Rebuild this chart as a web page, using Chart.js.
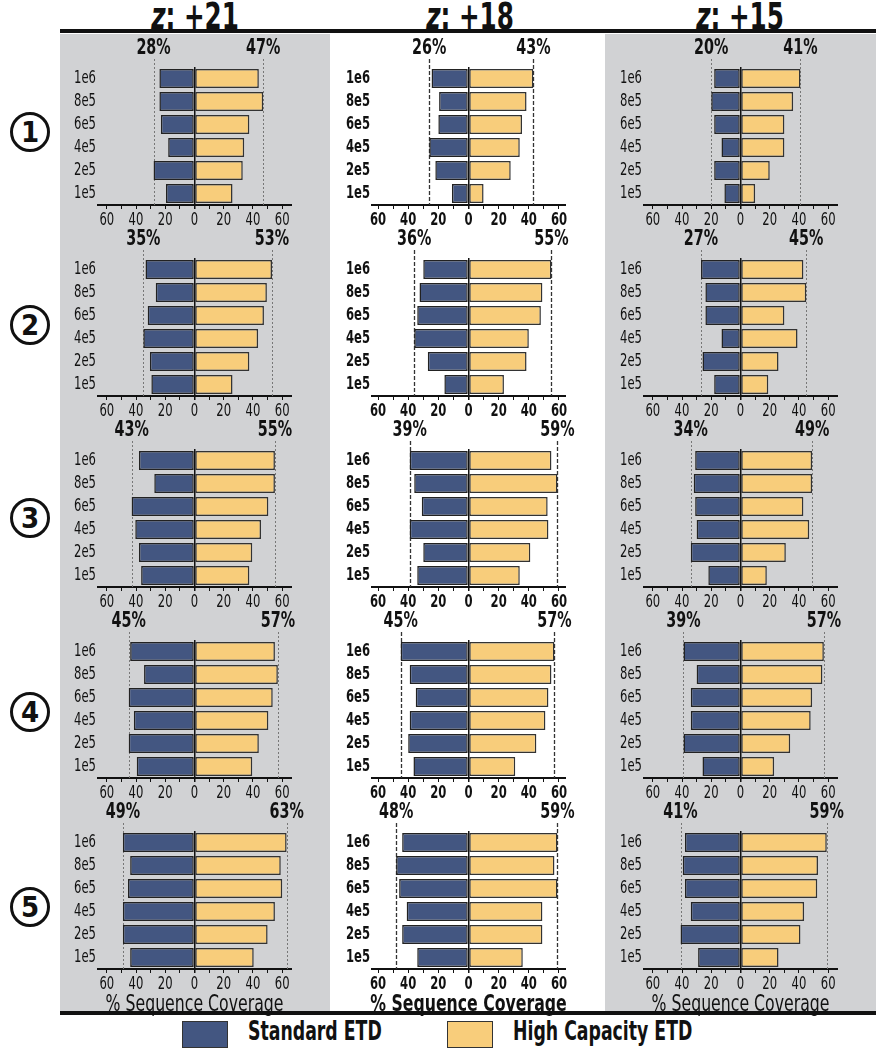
<!DOCTYPE html>
<html>
<head>
<meta charset="utf-8">
<script src="https://cdn.jsdelivr.net/npm/chart.js@4.4.1/dist/chart.umd.min.js"></script>
<style>
	body { margin: 0; width: 876px; height: 1050px; position: relative; overflow: hidden; background: #fff; color: #111;
		font-family: 'DejaVu Sans Condensed', 'DejaVu Sans', sans-serif; }
	.panel { position: absolute; top: 34px; height: 977px; background: #d1d2d4; }
	.rule { position: absolute; left: 60px; width: 816px; height: 4px; background: #111; }
	.head { position: absolute; top: -5px; width: 200px; text-align: center; font-weight: bold; font-size: 37px;
		transform: scaleX(0.74); transform-origin: center; }
	.head i { font-style: italic; }
	.circ { position: absolute; left: 10px; width: 34px; height: 34px; border: 3px solid #111; border-radius: 50%;
		text-align: center; line-height: 35px; font-weight: bold; font-size: 29px; }
	.key { position: absolute; top: 1021px; width: 44px; height: 25px; border: 1.5px solid #333; }
	.keytxt { position: absolute; top: 1016px; font-weight: bold; font-size: 26px; white-space: nowrap;
		transform: scaleX(0.74); transform-origin: left center; }
	canvas { position: absolute; }
</style>
</head>
<body>
<div class="panel" style="left:60px;width:270px"></div>
<div class="panel" style="left:605px;width:271px"></div>
<div class="rule" style="top:29px"></div>
<div class="rule" style="top:1011px"></div>

<div id="heads"></div>
<div id="rows"></div>

<div class="key" style="left:182px;background:#435681"></div>
<div class="keytxt" style="left:248px">Standard ETD</div>
<div class="key" style="left:447px;background:#f8cd7b"></div>
<div class="keytxt" style="left:513px">High Capacity ETD</div>

<script>
const categories = ['1e6', '8e5', '6e5', '4e5', '2e5', '1e5'];
const charges = ['+21', '+18', '+15'];
const rowLabels = ['1', '2', '3', '4', '5'];
const xTicks = [-60, -50, -40, -30, -20, -10, 0, 10, 20, 30, 40, 50, 60];

// % sequence coverage, Standard ETD (drawn to the left) and High Capacity ETD (to the right)
// z +21
const std21_1 = [24, 24, 23, 18, 28, 19.5];
const hc21_1 = [44, 47, 37.5, 34, 33, 26];
const std21_2 = [33.5, 26.5, 32, 35, 30.5, 29.5];
const hc21_2 = [53, 49.5, 47.5, 43.5, 37.5, 26];
const std21_3 = [38, 27.5, 43, 40.5, 38, 36.5];
const hc21_3 = [55, 55, 50.5, 45.5, 39.5, 37.5];
const std21_4 = [44, 34.5, 45, 41.5, 45, 39.5];
const hc21_4 = [55, 57, 53.5, 50.5, 44, 39.5];
const std21_5 = [49, 44, 45.5, 49, 49, 44];
const hc21_5 = [63, 59, 60, 55, 50, 40.5];
// z +18
const std18_1 = [24.5, 19.5, 20, 26, 22, 11];
const hc18_1 = [43, 38.5, 35.5, 34, 28, 10];
const std18_2 = [30, 32.5, 34, 36, 27, 16];
const hc18_2 = [55, 49, 48, 40, 38.5, 23.5];
const std18_3 = [39, 36, 31, 39, 30, 34];
const hc18_3 = [55, 59, 52.5, 53, 41, 34];
const std18_4 = [45, 39, 35, 39, 40, 36.5];
const hc18_4 = [57, 55, 53, 51, 45, 31];
const std18_5 = [44, 48, 46, 41, 44, 34];
const hc18_5 = [59, 57, 59, 49, 49, 36];
// z +15
const std15_1 = [18, 20, 18, 13, 18, 11];
const hc15_1 = [41, 36, 30, 30, 20, 10];
const std15_2 = [27, 24, 24, 13, 26, 18];
const hc15_2 = [43, 45, 30, 39, 26, 19];
const std15_3 = [31, 32, 31, 30, 34, 22];
const hc15_3 = [49, 49, 43, 47, 31, 18];
const std15_4 = [39, 30, 34, 34, 39, 26];
const hc15_4 = [57, 56, 49, 48, 34, 23];
const std15_5 = [38, 39.5, 38, 34, 41, 29];
const hc15_5 = [59, 53, 52.5, 43.5, 41, 26];

// best coverage per panel (the dotted lines and % labels), rows 1..5
const peakStd21 = [28, 35, 43, 45, 49];
const peakHc21 = [47, 53, 55, 57, 63];
const peakStd18 = [26, 36, 39, 45, 48];
const peakHc18 = [43, 55, 59, 57, 59];
const peakStd15 = [20, 27, 34, 39, 41];
const peakHc15 = [41, 45, 49, 57, 59];

const stdCols = [
	[std21_1, std21_2, std21_3, std21_4, std21_5],
	[std18_1, std18_2, std18_3, std18_4, std18_5],
	[std15_1, std15_2, std15_3, std15_4, std15_5]
];
const hcCols = [
	[hc21_1, hc21_2, hc21_3, hc21_4, hc21_5],
	[hc18_1, hc18_2, hc18_3, hc18_4, hc18_5],
	[hc15_1, hc15_2, hc15_3, hc15_4, hc15_5]
];
const peakStd = [peakStd21, peakStd18, peakStd15];
const peakHc = [peakHc21, peakHc18, peakHc15];

const FONT = "'DejaVu Sans Condensed', 'DejaVu Sans', sans-serif";
const BLUE = '#435681';
const YELLOW = '#f8cd7b';
const INK = '#111';
const SQUEEZE = 0.76; // the original uses a very narrow face

// layout
const colLeft = [98, 372, 644];
const colRange = [66, 64, 66];
const headX = [195, 470, 740];
const circY = [132, 325, 518, 712, 907];
const areaW = 193, areaH = 138;
const yW = 40, padTop = 32, padRight = 18, xH = 26;
const rowTop = r => 67 + 191 * r;

// narrow every label the chart writes
const condensePlugin = {
	id: 'condense',
	install(chart) {
		const ctx = chart.ctx;
		const fill = ctx.fillText.bind(ctx);
		ctx.fillText = (text, x, y) => {
			ctx.save();
			ctx.translate(x, y);
			ctx.scale(SQUEEZE, 1);
			fill(text, 0, 0);
			ctx.restore();
		};
	}
};

const peakPlugin = {
	id: 'peaks',
	beforeDatasetsDraw(chart, args, opts) {
		const {ctx, chartArea, scales: {x}} = chart;
		ctx.save();
		ctx.strokeStyle = opts.color;
		ctx.lineWidth = opts.width;
		ctx.setLineDash(opts.dash);
		[-opts.std, opts.hc].forEach(v => {
			const px = Math.round(x.getPixelForValue(v)) + 0.5;
			ctx.beginPath();
			ctx.moveTo(px, chartArea.top - 8);
			ctx.lineTo(px, chartArea.bottom);
			ctx.stroke();
		});
		ctx.restore();
	},
	afterDraw(chart, args, opts) {
		const {ctx, chartArea, scales: {x}} = chart;
		ctx.save();
		ctx.font = 'bold 21px ' + FONT;
		ctx.fillStyle = INK;
		ctx.textAlign = 'center';
		ctx.textBaseline = 'middle';
		ctx.fillText(opts.std + '%', x.getPixelForValue(-opts.std), chartArea.top - 18);
		ctx.fillText(opts.hc + '%', x.getPixelForValue(opts.hc), chartArea.top - 18);
		ctx.restore();
	}
};

const heads = document.getElementById('heads');
charges.forEach((z, c) => {
	const d = document.createElement('div'); {
		d.className = 'head';
		d.style.left = (headX[c] - 100) + 'px';
		d.innerHTML = '<i>z</i>: ' + z;
		heads.appendChild(d);
	}
});
const rows = document.getElementById('rows');
rowLabels.forEach((n, r) => {
	const d = document.createElement('div'); {
		d.className = 'circ';
		d.style.top = (circY[r] - 20) + 'px';
		d.textContent = n;
		rows.appendChild(d);
	}
});

function addChart(c, r) {
	const last = r === 4;
	const bold = c === 1;
	const h = padTop + areaH + xH + (last ? 24 : 0);
	const canvas = document.createElement('canvas');
	canvas.width = yW + areaW + padRight;
	canvas.height = h;
	canvas.style.left = (colLeft[c] - yW) + 'px';
	canvas.style.top = (rowTop(r) - padTop) + 'px';
	document.body.appendChild(canvas);

	new Chart(canvas.getContext('2d'), {
		type: 'bar',
		data: {
			labels: categories,
			datasets: [
				{
					label: 'Standard ETD',
					data: stdCols[c][r].map(v => -v),
					backgroundColor: BLUE,
					borderColor: '#222',
					borderWidth: 1.5,
					borderSkipped: false,
					barPercentage: 0.82,
					categoryPercentage: 1
				},
				{
					label: 'High Capacity ETD',
					data: hcCols[c][r],
					backgroundColor: YELLOW,
					borderColor: '#333',
					borderWidth: 1.5,
					borderSkipped: false,
					barPercentage: 0.82,
					categoryPercentage: 1
				}
			]
		},
		options: {
			indexAxis: 'y',
			responsive: false,
			animation: false,
			events: [],
			layout: { padding: { top: padTop, right: padRight, left: 0, bottom: 0 } },
			plugins: {
				legend: { display: false },
				tooltip: { enabled: false },
				peaks: {
					std: peakStd[c][r],
					hc: peakHc[c][r],
					color: bold ? '#333' : '#777',
					width: bold ? 1.3 : 1,
					dash: bold ? [4, 2] : [2, 2]
				}
			},
			scales: {
				x: {
					stacked: true,
					min: -colRange[c],
					max: colRange[c],
					afterBuildTicks: s => { s.ticks = xTicks.map(v => ({ value: v })); },
					afterFit: s => { s.height = xH + (last ? 24 : 0); },
					border: { display: true, color: INK, width: 2 },
					grid: {
						drawOnChartArea: true,
						color: ctx => ctx.tick && ctx.tick.value === 0 ? INK : 'transparent',
						lineWidth: ctx => ctx.tick && ctx.tick.value === 0 ? 1.5 : 1,
						tickColor: INK,
						tickLength: 4
					},
					ticks: {
						autoSkip: false,
						maxRotation: 0,
						padding: 1,
						color: INK,
						font: { family: FONT, size: 17, weight: bold ? 'bold' : 'normal' },
						callback: v => v % 20 === 0 ? String(Math.abs(v)) : ''
					},
					title: {
						display: last,
						text: '% Sequence Coverage',
						color: INK,
						padding: 0,
						font: { family: FONT, size: 23, weight: bold ? 'bold' : 'normal' }
					}
				},
				y: {
					stacked: true,
					afterFit: s => { s.width = yW; },
					border: { display: false },
					grid: { display: false, drawTicks: false },
					ticks: {
						autoSkip: false,
						padding: 2,
						color: INK,
						font: { family: FONT, size: 17, weight: bold ? 'bold' : 'normal' }
					}
				}
			}
		},
		plugins: [condensePlugin, peakPlugin]
	});
}

for (let c = 0; c < 3; c++) {
	for (let r = 0; r < 5; r++) {
		addChart(c, r);
	}
}
</script>
</body>
</html>
